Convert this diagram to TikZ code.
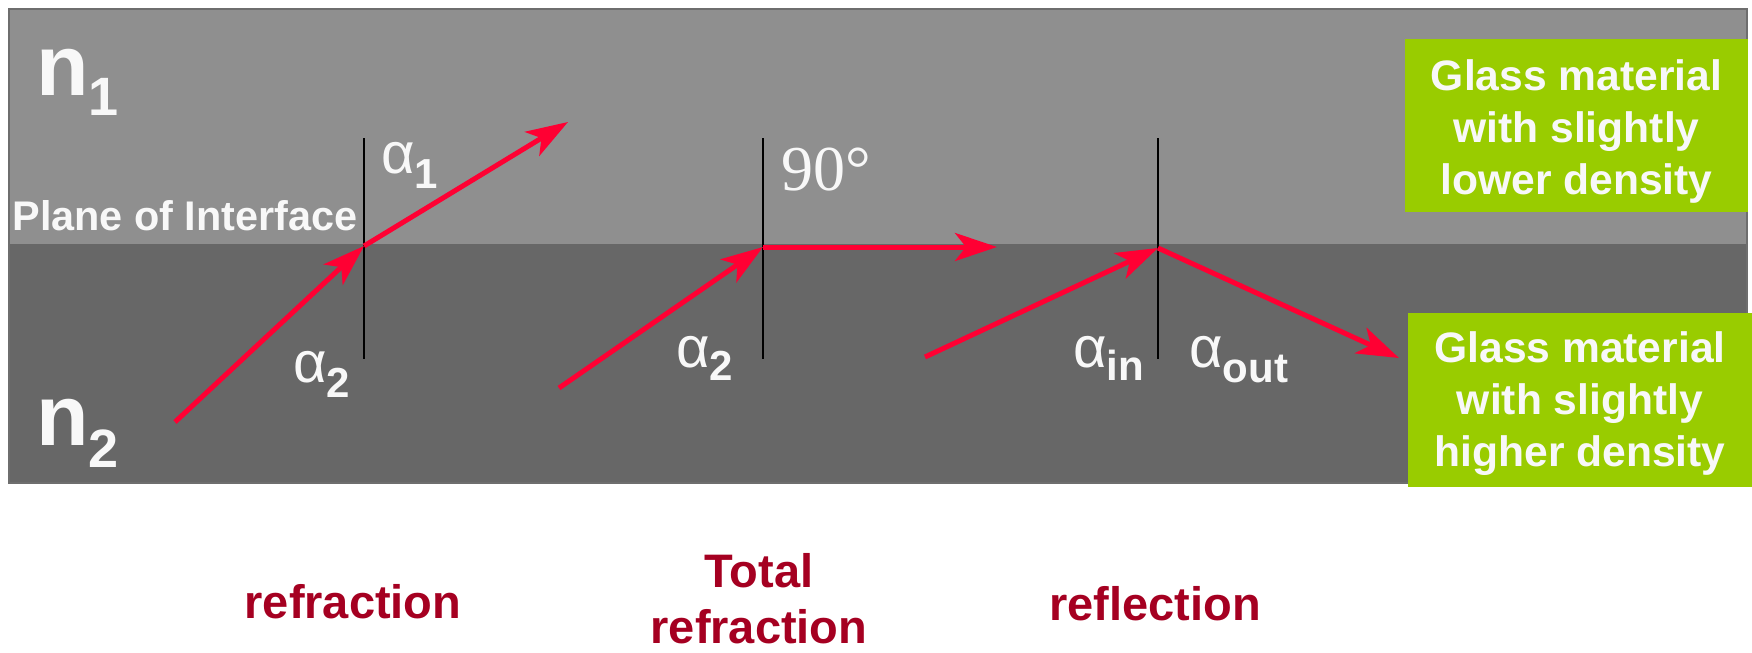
\documentclass[tikz,border=0pt]{standalone}
\usepackage{fontspec}
\setmainfont{Liberation Sans}
\newfontfamily\serifft{Liberation Serif}
\usetikzlibrary{arrows.meta}
\definecolor{lightg}{HTML}{8F8F8F}
\definecolor{darkg}{HTML}{676767}
\definecolor{edgeg}{HTML}{6E6E6E}
\definecolor{glassgreen}{HTML}{99CC00}
\definecolor{rayred}{HTML}{FF0033}
\definecolor{labelred}{HTML}{A50021}
\definecolor{txtw}{HTML}{F8F8F8}
\begin{document}
\begin{tikzpicture}[x=0.5pt,y=-0.5pt,
  ray/.style={draw=rayred, line width=2.5pt, -{Stealth[length=21pt,width=14pt,inset=5.5pt]}},
  normalline/.style={draw=black, line width=1.3pt},
  wtxt/.style={text=txtw, inner sep=0pt, anchor=base west},
  glassbox/.style={fill=glassgreen, inner sep=0pt},
  glasstext/.style={text=txtw, font=\fontsize{21.3}{26}\selectfont\bfseries,
    align=center, inner sep=0pt},
  botlabel/.style={text=labelred, font=\fontsize{23.5}{28}\selectfont\bfseries, inner sep=0pt}
]
\useasboundingbox (0,0) rectangle (1752,653);
% media
\fill[lightg] (9,9) rectangle (1747,244);
\fill[darkg] (9,244) rectangle (1747,483);
\draw[edgeg, line width=1pt] (9,9) rectangle (1747,483);

% green boxes
\node[glassbox, minimum width=171.5pt, minimum height=86.5pt] (lowbox) at (1576.5,125.5) {};
\node[glasstext] (lowtext) at (1576.5,131) {Glass material\\with slightly\\lower density};
\node[glassbox, minimum width=172pt, minimum height=87pt] (highbox) at (1580,400) {};
\node[glasstext] (hightext) at (1580,404) {Glass material\\with slightly\\higher density};

% n labels
\node[wtxt, font=\fontsize{43}{43}\selectfont\bfseries] (nlab1) at (36,95)
  {n\raisebox{-10pt}{\fontsize{27}{27}\selectfont 1}};
\node[wtxt, font=\fontsize{43}{43}\selectfont\bfseries] (nlab2) at (36,445)
  {n\raisebox{-11pt}{\fontsize{27}{27}\selectfont 2}};

\node[wtxt, font=\fontsize{20.7}{20.7}\selectfont\bfseries] (plane) at (12,230) {Plane of Interface};

% normals
\coordinate (t1) at (364,138); \coordinate (b1) at (364,359);
\coordinate (t2) at (763,138); \coordinate (b2) at (763,359);
\coordinate (t3) at (1158,138); \coordinate (b3) at (1158,359);
\draw[normalline] (t1) -- (b1);
\draw[normalline] (t2) -- (b2);
\draw[normalline] (t3) -- (b3);

% rays
\coordinate (r1s) at (175,422); \coordinate (p1) at (364,246); \coordinate (r1e) at (568,122);
\coordinate (r2s) at (559,388); \coordinate (p2) at (763,247); \coordinate (r2e) at (997,247);
\coordinate (r3s) at (925,357); \coordinate (p3) at (1158,248); \coordinate (r3e) at (1399,358);
\draw[ray] (r1s) -- (p1);
\draw[ray] (p1) -- (r1e);
\draw[ray] (r2s) -- (p2);
\draw[ray] (p2) -- (r2e);
\draw[ray] (r3s) -- (p3);
\draw[ray] (p3) -- (r3e);

% angle labels
\node[wtxt] (alpha1) at (381,173)
  {\fontsize{29}{29}\selectfont α\raisebox{-7.5pt}{\fontsize{21}{21}\selectfont\bfseries 1}};
\node[wtxt] (alpha2a) at (293,382)
  {\fontsize{29}{29}\selectfont α\raisebox{-7.5pt}{\fontsize{21}{21}\selectfont\bfseries 2}};
\node[wtxt] (alpha2b) at (676,367)
  {\fontsize{29}{29}\selectfont α\raisebox{-6.5pt}{\fontsize{21}{21}\selectfont\bfseries 2}};
\node[wtxt] (alphain) at (1073,367)
  {\fontsize{29}{29}\selectfont α\raisebox{-6.5pt}{\fontsize{21}{21}\selectfont\bfseries in}};
\node[wtxt] (alphaout) at (1189,367)
  {\fontsize{29}{29}\selectfont α\raisebox{-7.5pt}{\fontsize{21}{21}\selectfont\bfseries out}};
\node[wtxt, font=\serifft\fontsize{32}{32}\selectfont] (ninety) at (781,190) {90°};

% bottom labels
\node[botlabel, anchor=base] (refr) at (353,618) {refraction};
\node[botlabel, align=center] (totref) at (759,599) {Total\\refraction};
\node[botlabel, anchor=base] (refl) at (1155,620) {reflection};
\end{tikzpicture}
\end{document}
